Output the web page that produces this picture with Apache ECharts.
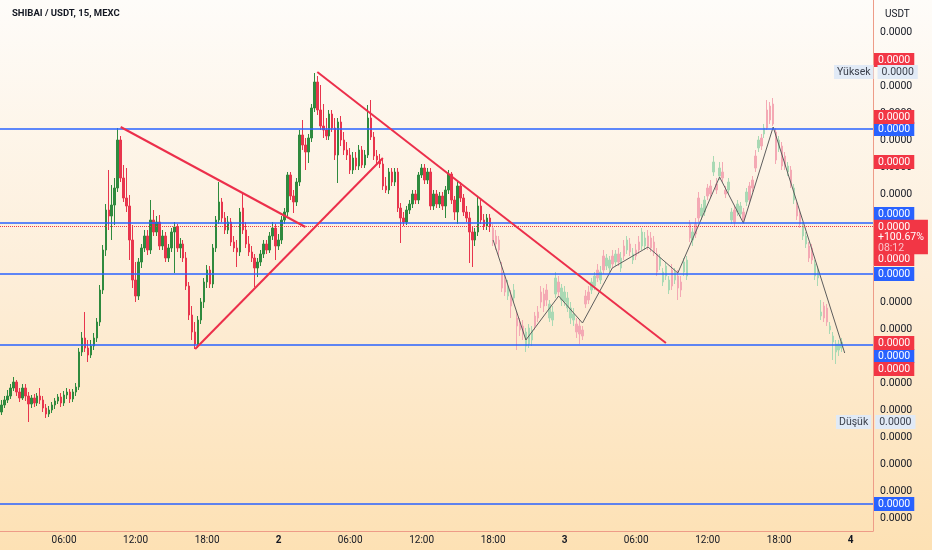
<!DOCTYPE html>
<html><head><meta charset="utf-8">
<script src="https://cdn.jsdelivr.net/npm/echarts@6/dist/echarts.min.js"></script>
<style>html,body{margin:0;padding:0;background:#fff;}#c{width:932px;height:550px;}</style>
</head><body><div id="c"></div>
<script>
// Price units are arbitrary (every axis label reads 0.0000); 27 units = one axis tick.
const realOpen=[106,113,118,122,130,136,126,120,130,122,114,120,115,122,118,110,104,108,113,117,121,115,123,126,119,126,131,166,180,170,163,172,180,196,228,268,308,302,313,330,378,340,320,312,278,238,222,256,270,282,268,298,286,296,272,282,260,270,286,291,270,274,260,232,203,186,174,198,216,236,248,234,270,298,316,300,288,296,276,270,266,310,288,274,266,260,250,256,264,274,268,282,290,272,278,298,306,343,322,316,336,383,373,366,380,410,436,408,392,388,382,404,390,363,396,378,368,363,348,360,352,368,353,363,400,381,362,358,354,332,328,346,336,346,310,300,296,308,314,324,318,343,350,338,346,312,324,314,322,312,328,344,318,306,332,320,306,300,286,278,286,312,298,292,300];
const realClose=[113,118,122,130,136,126,120,130,122,114,120,115,122,118,110,104,108,113,117,121,115,123,126,119,126,131,166,180,170,163,172,180,196,228,268,308,302,313,330,378,340,320,312,278,238,222,256,270,282,268,298,286,296,272,282,260,270,286,291,270,274,260,232,203,186,174,198,216,236,248,234,270,298,316,300,288,296,276,270,266,306,288,274,266,260,250,256,264,274,268,282,290,272,278,298,306,343,322,316,336,383,373,366,380,410,436,408,392,388,382,404,390,363,396,378,368,363,348,360,352,368,353,363,400,381,362,358,354,332,328,346,336,346,310,300,296,308,314,324,318,343,350,338,346,312,324,314,322,312,328,344,318,306,332,320,306,300,286,278,286,312,298,292,300,292];
const realHigh=[118,122,128,134,141,138,130,134,134,126,123,124,125,130,122,114,112,116,120,124,125,127,130,129,129,135,170,186,206,178,178,185,200,233,273,314,348,333,340,390,382,353,350,323,293,256,260,274,288,288,318,308,302,303,288,286,274,290,296,294,280,278,266,236,212,196,202,220,240,253,252,274,302,336,320,306,302,300,282,278,310,325,296,282,272,264,260,268,278,278,286,296,294,284,302,310,346,346,328,340,388,398,380,384,414,445,442,433,414,400,408,408,400,400,402,386,376,370,366,366,373,372,368,413,418,386,368,364,360,341,350,350,350,350,315,306,312,318,328,328,346,354,354,350,350,328,328,326,326,332,348,346,322,336,336,324,312,306,292,290,321,318,304,304,304];
const realLow=[103,110,115,119,127,122,116,118,117,96,110,111,112,114,106,100,101,105,109,114,111,112,119,115,116,122,128,162,166,156,160,168,176,192,224,262,288,278,293,326,336,316,306,258,230,216,218,250,266,263,264,282,282,268,268,256,256,266,245,266,260,256,228,198,178,169,170,194,210,230,230,230,266,294,296,284,284,272,266,251,262,284,270,262,256,231,241,252,260,264,265,278,258,268,274,294,302,318,305,312,332,368,348,355,376,406,403,388,380,378,378,386,358,335,372,363,358,344,344,348,348,350,350,360,378,358,354,350,328,325,324,332,332,306,275,292,293,304,310,314,314,340,334,334,308,308,310,310,308,300,324,314,298,294,316,302,296,255,251,272,282,294,288,288,286];

// Ghost-feed projection candles (faded), drawn after the last real candle
const ghostOpen=[290,282,278,246,238,222,222,220,200,196,192,172,174,178,202,206,226,224,228,200,198,224,236,218,216,210,200,198,194,192,188,222,226,228,232,248,238,262,252,250,262,256,264,250,272,268,274,258,268,276,272,272,282,280,276,264,252,236,242,228,248,238,242,236,246,242,294,278,294,320,302,306,330,332,346,334,342,346,328,328,298,308,306,304,306,316,332,338,362,370,380,384,408,412,414,386,370,372,362,346,348,318,312,304,282,274,272,270,242,240,202,212,210,188,176,166,168,170];
const ghostClose=[278,274,268,230,226,232,212,228,192,188,184,186,190,188,192,200,216,212,218,214,206,240,226,230,226,220,210,204,186,184,182,214,218,236,242,240,246,248,260,258,254,264,256,260,262,278,266,264,262,268,286,280,272,270,266,246,260,246,252,238,232,246,230,228,256,258,280,286,284,300,310,318,322,324,356,328,350,340,324,336,306,296,314,312,298,326,318,330,350,378,372,390,390,398,394,358,378,352,352,352,334,330,302,294,292,282,260,258,254,248,206,200,196,192,182,174,174,176];
const ghostHigh=[294,288,282,256,244,238,228,234,206,200,198,190,194,192,206,212,232,230,234,218,212,246,242,234,232,226,216,210,200,198,192,228,232,240,246,254,252,268,264,262,268,268,270,266,278,282,280,270,274,282,290,286,288,286,282,270,264,250,256,242,254,250,248,242,260,262,298,290,300,326,314,322,334,338,362,340,356,356,332,340,310,312,318,316,310,330,336,342,368,382,384,394,418,416,420,390,382,376,366,356,352,334,316,308,296,286,276,274,258,252,218,216,214,196,186,178,178,180];
const ghostLow=[272,268,262,226,222,218,200,216,168,182,178,166,170,172,188,196,210,206,212,196,192,220,222,212,212,206,194,192,180,174,178,210,214,224,228,236,234,244,248,246,250,252,252,246,258,264,262,254,258,264,268,268,268,266,262,242,248,232,238,224,228,234,218,221,242,238,276,272,280,296,298,302,318,320,342,324,338,336,320,324,294,292,302,300,294,312,314,326,346,366,368,380,388,394,392,354,366,348,348,342,330,314,298,290,278,270,256,254,238,232,198,196,192,184,158,154,162,166];

// Projection zig-zag path [candle index, price]
const zigzag=[[165,278],[176,178],[187,222],[195,195],[205,250],[217,271],[227,245],[241,341],[249,295],[259,391],[283,165]];
// Red trend lines [candle index, price]
const trend1=[[40,391],[102,291]];
const trend2=[[65,169],[128,360]];
const trend3=[[106,446],[223,175]];
// Blue horizontal levels
const blueLevels=[389,295,244,173,14];
const blueLabelLevels=[389,304,244,162,14];
const redLabelLevels=[458,401,356,259,175,149];
const lastPrice=292;
const priceBlockLevel=281;
const highLevel=446, lowLevel=96;
const yTicks=[0,27,54,81,108,135,162,189,216,243,270,297,324,351,378,405,432,459,486];
// Time axis: 15-minute candles starting day 1, 00:45
const startDay=1, startMinutes=45, stepMinutes=15, slotCount=293;

const categories=[];
for(let i=0;i<slotCount;i++){
  const t=startMinutes+i*stepMinutes;
  const d=startDay+Math.floor(t/1440);
  const m=t%1440, hh=Math.floor(m/60), mm=m%60;
  categories.push(d+' '+String(hh).padStart(2,'0')+':'+String(mm).padStart(2,'0'));
}
const realData=realOpen.map((o,i)=>[i,o,realClose[i],realLow[i],realHigh[i]]);
const ghostStart=realOpen.length;
const ghostData=ghostOpen.map((o,k)=>[ghostStart+k,o,ghostClose[k],ghostLow[k],ghostHigh[k]]);

const FONT='Roboto';
const UP='#2f8a3e', DOWN='#e8354d', RED='#f23645', BLUE='#2962ff';
const sideLabel=(bg)=>({show:true,position:'end',distance:1,formatter:'0.0000',color:'#fff',backgroundColor:bg,opacity:1,
  fontFamily:FONT,fontSize:10.5,padding:[2,4,1,4],lineHeight:11});
const hidden={color:'rgba(0,0,0,0)',width:1,opacity:1};
const infoRich={a:{backgroundColor:'#e1eaf6',color:'#3a3f4b',fontFamily:FONT,fontSize:10.5,padding:[2,3,1,3]},
                s:{width:4},
                b:{backgroundColor:'#e1eaf6',color:'#3a3f4b',fontFamily:FONT,fontSize:10.5,padding:[2,4,1,4]}};

const chart=echarts.init(document.getElementById('c'),null,{renderer:'canvas'});
chart.setOption({
  animation:false,
  backgroundColor:{type:'linear',x:0,y:0,x2:0,y2:1,colorStops:[{offset:0,color:'#fefcf9'},{offset:0.5,color:'#fdeed9'},{offset:1,color:'#fde1b4'}]},
  title:[
    {text:'SHIBAI / USDT, 15, MEXC',left:7,top:4,textStyle:{fontFamily:FONT,fontSize:9.5,fontWeight:'bold',color:'#131722'}},
    {text:'USDT',left:880,top:4,textStyle:{fontFamily:FONT,fontSize:10,fontWeight:'normal',color:'#131722'}}
  ],
  grid:{left:0,right:59,top:0,bottom:19,containLabel:false},
  xAxis:{type:'category',data:categories,boundaryGap:true,
    axisLine:{show:true,onZero:false,lineStyle:{color:'#ee9c88',width:1}},axisTick:{show:false},splitLine:{show:false},
    axisLabel:{margin:4,fontFamily:FONT,fontSize:10,color:'#131722',
      interval:(idx,val)=>{const hm=val.split(' ')[1];const h=+hm.slice(0,2),m=+hm.slice(3);return m===0&&h%6===0;},
      formatter:(val)=>{const [d,hm]=val.split(' ');return hm==='00:00'?'{d|'+d+'}':hm;},
      rich:{d:{fontFamily:FONT,fontSize:10,fontWeight:'bold',color:'#131722'}}}},
  yAxis:{type:'value',position:'right',min:-13,max:518,scale:false,
    axisLine:{show:true,onZero:false,lineStyle:{color:'#ee9c88',width:1}},axisTick:{show:false},splitLine:{show:false},
    axisLabel:{customValues:yTicks,margin:7,fontFamily:FONT,fontSize:10.5,color:'#131722',formatter:()=>'0.0000'}},
  series:[
    {type:'candlestick',name:'ghost',data:ghostData,encode:{x:0,y:[1,2,3,4]},barWidth:2,z:2,
      itemStyle:{color:'#a9d9b4',color0:'#f4a9b4',borderColor:'#a9d9b4',borderColor0:'#f4a9b4',borderWidth:1}},
    {type:'line',name:'zigzag',data:zigzag,symbol:'none',lineStyle:{color:'#5d5d5d',width:1},z:3},
    {type:'candlestick',name:'price',data:realData,encode:{x:0,y:[1,2,3,4]},barWidth:2,z:4,
      itemStyle:{color:UP,color0:DOWN,borderColor:UP,borderColor0:DOWN,borderWidth:1},
      markLine:{silent:true,symbol:['none','none'],precision:4,z:5,
        data:[
          ...blueLevels.map(v=>({yAxis:v,lineStyle:{color:BLUE,width:1.5,type:'solid'},label:{show:false}})),
          {yAxis:lastPrice,lineStyle:{color:RED,width:1,type:'dotted'},label:{show:false}},
          ...blueLabelLevels.map(v=>({yAxis:v,lineStyle:hidden,label:sideLabel(BLUE)})),
          ...redLabelLevels.map(v=>({yAxis:v,lineStyle:hidden,label:sideLabel(RED)})),
          {yAxis:priceBlockLevel,lineStyle:hidden,label:{show:true,position:'end',distance:1,backgroundColor:RED,padding:[2,4,1,4],opacity:1,
            formatter:'{p|0.0000}\n{p|+100.67%}\n{t|08:12}',
            rich:{p:{color:'#fff',fontFamily:FONT,fontSize:10.5,lineHeight:10.5},t:{color:'#fbc3ca',fontFamily:FONT,fontSize:10.5,lineHeight:10.5}}}},
          {yAxis:highLevel,lineStyle:hidden,label:{show:true,position:'end',distance:-39,opacity:1,formatter:'{a|Yüksek}{s|}{b|0.0000}',rich:infoRich}},
          {yAxis:lowLevel,lineStyle:hidden,label:{show:true,position:'end',distance:-37,opacity:1,formatter:'{a|Düşük}{s|}{b|0.0000}',rich:infoRich}}
        ]}},
    {type:'line',name:'t1',data:trend1,symbol:'none',lineStyle:{color:'#ec2f4b',width:2},z:6},
    {type:'line',name:'t2',data:trend2,symbol:'none',lineStyle:{color:'#ec2f4b',width:2},z:6},
    {type:'line',name:'t3',data:trend3,symbol:'none',lineStyle:{color:'#ec2f4b',width:2},z:6}
  ]
});
</script></body></html>
